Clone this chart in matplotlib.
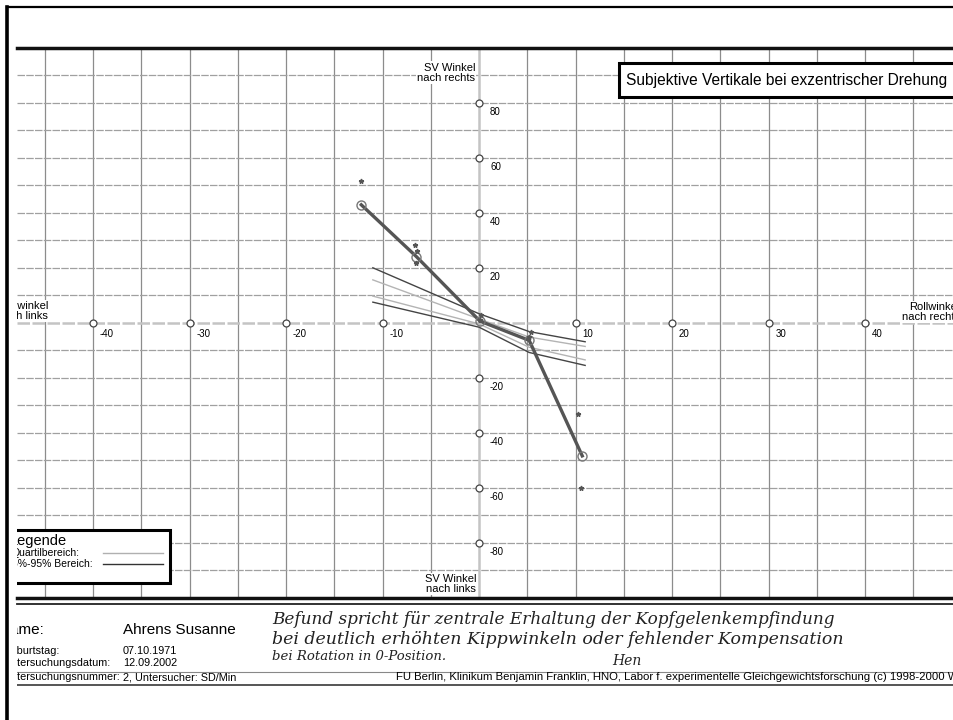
import matplotlib
matplotlib.use('Agg')
import matplotlib.pyplot as plt
from matplotlib.patches import Rectangle

plt.rcParams['font.family'] = ['Liberation Sans', 'DejaVu Sans']

# Messpositionen: Rollwinkel (Grad) und mittlere SV (Grad)
roll_pos = [-12.2, -6.5, 0.1, 5.2, 10.7]
sv_mean = [42.8, 24.0, 0.5, -6.5, -48.5]

# Einzelmessungen
roll_single = [-12.2, -6.6, -6.4, -6.5, 0.2, 0.1, 5.4, 5.2, 10.3, 10.6]
sv_single = [51.3, 28.2, 26.1, 21.5, 2.6, 1.0, -3.5, -5.1, -33.2, -60.0]

# Normbereich
norm_roll = [-11.0, 0.0, 5.2, 11.0]
p95_hi = [19.9, 3.2, -3.3, -7.0]
p95_lo = [7.4, -1.7, -10.9, -15.6]
quart_hi = [15.5, 1.3, -5.3, -8.7]
quart_lo = [9.6, -0.5, -9.0, -13.6]

x_ticks = [-40, -30, -20, -10, 10, 20, 30, 40]
y_ticks = [80, 60, 40, 20, -20, -40, -60, -80]

footer_labels = ['Name:', 'Geburtstag:', 'Untersuchungsdatum:', 'Untersuchungsnummer:']
footer_values = ['Ahrens Susanne', '07.10.1971', '12.09.2002', '2, Untersucher: SD/Min']
note_lines = ['Befund spricht für zentrale Erhaltung der Kopfgelenkempfindung',
              'bei deutlich erhöhten Kippwinkeln oder fehlender Kompensation',
              'bei Rotation in 0-Position.']

W, H = 954, 720
X0, XS = 479, 9.65     # pixel of roll 0, px per degree
Y0, YS = 322.5, 2.75   # pixel of sv 0, px per degree

def dx(px):
    return (px - X0) / XS

def dy(py):
    return (Y0 - py) / YS

fig = plt.figure(figsize=(W / 100, H / 100), dpi=100)

# page frame
page = fig.add_axes([0, 0, 1, 1])
page.set_xlim(0, W)
page.set_ylim(H, 0)
page.axis('off')
page.plot([7, W + 5], [7, 7], color='k', lw=1.6)
page.plot([7, 7], [7, H + 5], color='k', lw=2.6)
page.plot([17, W + 5], [604, 604], color='#222222', lw=1.3)

# diagram
ax = fig.add_axes([17 / W, 1 - 597.5 / H, (W - 17) / W, 550 / H])
ax.set_xlim(dx(17), dx(W))
ax.set_ylim(-100, 100)
ax.set_xticks([])
ax.set_yticks([])
for s in ['left', 'right']:
    ax.spines[s].set_visible(False)
for s in ['top', 'bottom']:
    ax.spines[s].set_linewidth(2.5)
    ax.spines[s].set_color('#111111')

for v in range(-45, 50, 5):
    if v != 0:
        ax.axvline(v, color='#8c8c8c', lw=0.9, zorder=1)
for h in range(-90, 100, 10):
    if h != 0:
        ax.axhline(h, color='#a0a0a0', lw=0.9, ls=(0, (6, 1)), zorder=1)
ax.axhline(0, color='#c4c4c4', lw=1.8, ls=(0, (5, 1)), zorder=1.5)
ax.axvline(0, color='#c4c4c4', lw=1.8, zorder=1.5)

# tick circles and labels
ax.plot(x_ticks, [0] * len(x_ticks), 'o', ms=5, mfc='white', mec='#444444', mew=0.9, zorder=2.5)
ax.plot([0] * len(y_ticks), y_ticks, 'o', ms=5, mfc='white', mec='#444444', mew=0.9, zorder=2.5)
for t in x_ticks:
    ax.annotate(str(t), (t, 0), xytext=(7, -11), textcoords='offset pixels',
                ha='left', va='center', fontsize=7, zorder=5)
for t in y_ticks:
    ax.annotate(str(t), (0, t), xytext=(11, -9), textcoords='offset pixels',
                ha='left', va='center', fontsize=7, zorder=5)

wbg = dict(facecolor='white', edgecolor='none', pad=1)
ax.text(dx(475), dy(72.5), 'SV Winkel\nnach rechts', ha='right', va='center',
        fontsize=8, linespacing=1.0, bbox=wbg, zorder=5)
ax.text(dx(476), dy(584), 'SV Winkel\nnach links', ha='right', va='center',
        fontsize=8, linespacing=1.0, bbox=wbg, zorder=5)
ax.text(dx(48), dy(311), 'Rollwinkel\nnach links', ha='right', va='center',
        fontsize=8, linespacing=1.0, bbox=wbg, zorder=5, clip_on=True)
ax.text(dx(960), dy(312), 'Rollwinkel\nnach rechts', ha='right', va='center',
        fontsize=8, linespacing=1.0, bbox=wbg, zorder=5, clip_on=True)

# title box
ax.add_patch(Rectangle((dx(619), dy(97)), 60, dy(63) - dy(97), facecolor='white',
                       edgecolor='k', lw=2.2, zorder=5))
ax.text(dx(626), dy(80), 'Subjektive Vertikale bei exzentrischer Drehung',
        ha='left', va='center', fontsize=11.2, zorder=6, clip_on=True)

# legend box
ax.add_patch(Rectangle((dx(0), dy(583)), dx(170) - dx(0), dy(530) - dy(583),
                       facecolor='white', edgecolor='k', lw=2.2, zorder=5))
ax.text(dx(10), dy(541), 'Legende', ha='left', va='center', fontsize=10.5, zorder=6, clip_on=True)
ax.text(dx(11), dy(552.5), 'Quartilbereich:', ha='left', va='center', fontsize=7.5, zorder=6, clip_on=True)
ax.text(dx(12), dy(564), '5%-95% Bereich:', ha='left', va='center', fontsize=7.5, zorder=6, clip_on=True)
ax.plot([dx(103), dx(163)], [dy(553)] * 2, color='#b0b0b0', lw=1, zorder=6)
ax.plot([dx(103), dx(163)], [dy(564)] * 2, color='#333333', lw=1, zorder=6)

# data
ax.plot(norm_roll, p95_hi, color='#444444', lw=1.0, zorder=3)
ax.plot(norm_roll, p95_lo, color='#444444', lw=1.0, zorder=3)
ax.plot(norm_roll, quart_hi, color='#b4b4b4', lw=1.0, zorder=3)
ax.plot(norm_roll, quart_lo, color='#b4b4b4', lw=1.0, zorder=3)
ax.plot(roll_pos, sv_mean, color='#555555', lw=2.4, zorder=4)
ax.plot(roll_pos, sv_mean, 'o', ms=6.5, mfc='none', mec='#777777', mew=1.0, zorder=4.5)
ax.plot(roll_single, sv_single, '*', ms=3.5, color='#555555', zorder=4.5)

# footer
fax = fig.add_axes([17 / W, 0, (W - 17) / W, 1 - 605 / H])
fax.set_xlim(17, W)
fax.set_ylim(H, 605)
fax.axis('off')
fax.patch.set_visible(False)
fax.plot([17, W], [672, 672], color='#888888', lw=0.8)
fax.plot([17, W], [685, 685], color='#555555', lw=1.4)
rows_y = [630, 651, 663, 677]
sizes = [11, 7.8, 7.8, 7.8]
label_x = [0, 3, 3, 3]
for lab, val, yy, fs, lx in zip(footer_labels, footer_values, rows_y, sizes, label_x):
    fax.text(lx, yy, lab, ha='left', va='center', fontsize=fs, clip_on=True)
    fax.text(123, yy, val, ha='left', va='center', fontsize=fs, clip_on=True)
fax.text(396, 677, 'FU Berlin, Klinikum Benjamin Franklin, HNO, Labor f. experimentelle '
         'Gleichgewichtsforschung (c) 1998-2000 WI', ha='left', va='center',
         fontsize=8.2, clip_on=True)

note_font = dict(style='italic', family='DejaVu Serif', color='#222222')
for line, yy, fs in zip(note_lines, [620, 640, 656], [12.2, 12.5, 9.5]):
    fax.text(272, yy, line, ha='left', va='center', fontsize=fs, **note_font)
fax.text(612, 661, 'Hen', ha='left', va='center', fontsize=10, **note_font)

fig.savefig('out.png', dpi=100)
